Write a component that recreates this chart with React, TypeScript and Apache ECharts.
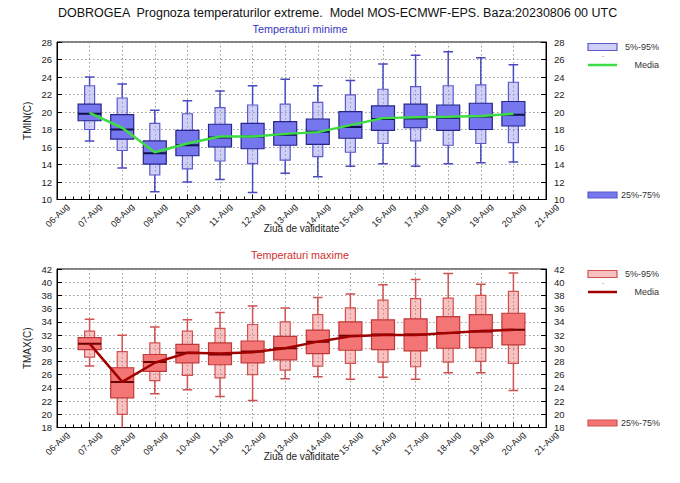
import React, { useEffect, useRef } from "react";
import * as echarts from "echarts";

const days = ["06-Aug","07-Aug","08-Aug","09-Aug","10-Aug","11-Aug","12-Aug","13-Aug","14-Aug","15-Aug","16-Aug","17-Aug","18-Aug","19-Aug","20-Aug","21-Aug"];
const boxDays = [1,2,3,4,5,6,7,8,9,10,11,12,13,14];

// TMIN
const tminMax = [24.0,23.2,20.2,21.3,22.4,23.0,23.75,23.0,23.6,25.5,26.5,26.9,26.2,25.4];
const tminP95 = [23.0,21.6,18.7,19.8,20.5,20.8,20.9,21.1,21.95,22.6,22.9,23.0,23.1,23.4];
const tminP75 = [20.9,19.7,16.7,17.9,18.6,18.7,18.9,19.2,20.05,20.7,20.9,20.8,21.0,21.2];
const tminMed = [19.8,18.0,15.3,16.2,17.1,17.2,17.4,17.75,18.3,19.2,19.25,19.35,19.5,19.7];
const tminP25 = [19.0,16.9,14.05,15.0,16.0,15.8,16.2,16.3,17.0,17.9,18.2,17.9,18.0,18.4];
const tminP5 = [18.0,15.6,12.8,13.5,14.4,14.1,14.5,14.9,15.4,16.4,16.7,16.2,16.4,16.5];
const tminMin = [16.7,13.6,10.9,12.0,12.3,10.8,13.0,12.6,13.8,14.1,13.8,14.1,14.2,14.3];
const tminMedia = [19.9,18.2,15.4,16.4,17.2,17.2,17.5,17.7,18.5,19.3,19.4,19.45,19.55,19.8];

// TMAX
const tmaxMax = [34.4,31.95,33.2,34.3,35.4,36.4,36.1,37.7,38.2,39.6,40.4,41.3,39.7,41.4];
const tmaxP95 = [32.6,29.5,30.8,32.6,33.0,33.6,34.0,35.1,36.1,37.3,37.5,37.6,38.0,38.6];
const tmaxP75 = [31.6,27.05,29.05,30.6,30.8,31.1,31.8,32.75,34.0,34.3,34.45,34.8,35.1,35.3];
const tmaxMed = [30.7,24.9,27.9,29.3,29.05,29.5,30.0,31.0,31.9,32.1,32.1,32.3,32.55,32.8];
const tmaxP25 = [29.8,22.5,26.5,27.8,27.5,27.8,28.25,29.2,29.7,29.8,29.6,30.0,30.1,30.5];
const tmaxP5 = [28.65,20.0,25.1,25.9,25.5,26.0,26.7,27.3,27.7,27.9,27.2,27.9,28.0,27.7];
const tmaxMin = [27.3,17.6,23.1,23.7,22.7,22.1,25.4,25.7,25.3,25.6,25.3,26.3,26.3,23.6];
const tmaxMedia = [30.7,24.9,27.8,29.3,29.2,29.4,30.0,31.0,31.8,32.0,32.0,32.3,32.6,32.8];

const yTicksMin = { min: 10, max: 28, interval: 2 };
const yTicksMax = { min: 18, max: 42, interval: 2 };

const FONT = '"Liberation Sans", Arial, Helvetica, sans-serif';

const blue = {
  lightFill: "rgba(140,140,238,0.42)",
  lightStroke: "#5a5acc",
  darkFill: "#7676ee",
  darkStroke: "#25258a",
  median: "#10104a",
  whisker: "#4a4ac0",
  media: "#3ddc45",
};
const red = {
  lightFill: "rgba(240,110,110,0.42)",
  lightStroke: "#d25050",
  darkFill: "#f47575",
  darkStroke: "#c03838",
  median: "#6a0000",
  whisker: "#d05252",
  media: "#a00000",
};

function buildRows(mn, p5, p25, md, p75, p95, mx) {
  return boxDays.map((d, i) => [d, mn[i], p5[i], p25[i], md[i], p75[i], p95[i], mx[i]]);
}

function makeRender(c) {
  return (params, api) => {
    const x = api.value(0);
    const v = [1, 2, 3, 4, 5, 6, 7].map((k) => api.value(k));
    const [wmin, p5, p25, md, p75, p95, wmax] = v;
    const px = api.coord([x, md])[0];
    const y = (val) => api.coord([x, val])[1];
    const ow = 5, iw = 11.5, cw = 4.8;
    const ls = (x1, y1, x2, y2, col, w) => ({
      type: "line",
      shape: { x1, y1, x2, y2 },
      style: { stroke: col, lineWidth: w },
    });
    return {
      type: "group",
      children: [
        ls(px, y(wmax), px, y(p95), c.whisker, 1.5),
        ls(px - cw, y(wmax), px + cw, y(wmax), c.whisker, 1.5),
        ls(px, y(p5), px, y(wmin), c.whisker, 1.5),
        ls(px - cw, y(wmin), px + cw, y(wmin), c.whisker, 1.5),
        {
          type: "rect",
          shape: { x: px - ow, y: y(p95), width: ow * 2, height: y(p5) - y(p95) },
          style: { fill: c.lightFill, stroke: c.lightStroke, lineWidth: 1.2 },
        },
        {
          type: "rect",
          shape: { x: px - iw, y: y(p75), width: iw * 2, height: y(p25) - y(p75) },
          style: { fill: c.darkFill, stroke: c.darkStroke, lineWidth: 1.2 },
        },
        ls(px - iw, y(md), px + iw, y(md), c.median, 2),
      ],
    };
  };
}

function xAxisFor(gridIndex) {
  return {
    type: "value",
    gridIndex,
    min: 0,
    max: 15,
    interval: 1,
    axisLine: { show: true, onZero: false, lineStyle: { color: "#000", width: 1 } },
    axisTick: { show: true, inside: true, length: 5, lineStyle: { color: "#000" } },
    minorTick: { show: true, splitNumber: 4, length: 3, lineStyle: { color: "#000" } },
    splitLine: { show: true, lineStyle: { color: "#999", type: [1.5, 2.5], width: 1 } },
    axisLabel: {
      rotate: 45,
      margin: 2,
      color: "#222",
      fontSize: 9,
      fontFamily: FONT,
      formatter: (val) => "{a|" + days[Math.round(val)] + "}",
      rich: { a: { fontSize: 9, fontFamily: FONT, color: "#222", padding: [20, -5, 0, 0] } },
    },
    name: "Ziua de validitate",
    nameLocation: "middle",
    nameGap: 24,
    nameMoveOverlap: false,
    nameTextStyle: { fontSize: 10, color: "#222", fontFamily: FONT },
  };
}

function yAxesFor(gridIndex, t, name) {
  const common = {
    type: "value",
    gridIndex,
    min: t.min,
    max: t.max,
    interval: t.interval,
    axisLine: { show: true, lineStyle: { color: "#000", width: 1 } },
    axisTick: { show: true, inside: true, length: 5, lineStyle: { color: "#000" } },
    axisLabel: { color: "#222", fontSize: 9.5, fontFamily: FONT, margin: 5 },
  };
  return [
    {
      ...common,
      position: "left",
      splitLine: { show: true, lineStyle: { color: "#999", type: [1.5, 2.5], width: 1 } },
      name,
      nameLocation: "middle",
      nameGap: 25,
      nameRotate: 90,
      nameMoveOverlap: false,
      nameTextStyle: { fontSize: 10, color: "#222", fontFamily: FONT },
    },
    {
      ...common,
      position: "right",
      splitLine: { show: false },
      axisLabel: { ...common.axisLabel, margin: 8 },
    },
  ];
}

function legend(c, yLight, yMedia, yDark) {
  const txt = (x, y, text, align) => ({
    type: "text",
    x,
    y,
    style: { text, fill: "#333", font: "9px " + FONT, align, verticalAlign: "middle" },
  });
  return [
    { type: "rect", shape: { x: 588, y: yLight - 3.5, width: 29, height: 7 }, style: { fill: c.lightFill, stroke: c.lightStroke, lineWidth: 1.2 } },
    txt(625, yLight, "5%-95%", "left"),
    { type: "rect", shape: { x: 602.5, y: (yLight + yMedia) / 2, width: 1, height: 1 }, style: { fill: "#888" } },
    { type: "line", shape: { x1: 588, y1: yMedia, x2: 617, y2: yMedia }, style: { stroke: c.media, lineWidth: 2.5 } },
    txt(659, yMedia, "Media", "right"),
    { type: "rect", shape: { x: 588, y: yDark - 3, width: 29, height: 6 }, style: { fill: c.darkFill, stroke: c.lightStroke, lineWidth: 1.2 } },
    txt(621, yDark, "25%-75%", "left"),
  ];
}

export default function App() {
  const ref = useRef(null);
  useEffect(() => {
    const chart = echarts.init(ref.current, null, { renderer: "svg" });
    const option = {
      animation: false,
      backgroundColor: "#fff",
      grid: [
        { left: 57, top: 42, width: 489, height: 157.5, show: true, borderColor: "#000", borderWidth: 1, backgroundColor: "transparent" },
        { left: 57, top: 269, width: 489, height: 158.5, show: true, borderColor: "#000", borderWidth: 1, backgroundColor: "transparent" },
      ],
      xAxis: [xAxisFor(0), xAxisFor(1)],
      yAxis: [...yAxesFor(0, yTicksMin, "TMIN(C)"), ...yAxesFor(1, yTicksMax, "TMAX(C)")],
      series: [
        {
          type: "custom",
          xAxisIndex: 0,
          yAxisIndex: 0,
          clip: true,
          encode: { x: 0, y: [1, 2, 3, 4, 5, 6, 7] },
          data: buildRows(tminMin, tminP5, tminP25, tminMed, tminP75, tminP95, tminMax),
          renderItem: makeRender(blue),
          z: 2,
        },
        {
          type: "line",
          xAxisIndex: 0,
          yAxisIndex: 0,
          data: boxDays.map((d, i) => [d, tminMedia[i]]),
          symbol: "none",
          lineStyle: { color: blue.media, width: 2.5 },
          z: 4,
        },
        {
          type: "custom",
          xAxisIndex: 1,
          yAxisIndex: 2,
          clip: true,
          encode: { x: 0, y: [1, 2, 3, 4, 5, 6, 7] },
          data: buildRows(tmaxMin, tmaxP5, tmaxP25, tmaxMed, tmaxP75, tmaxP95, tmaxMax),
          renderItem: makeRender(red),
          z: 2,
        },
        {
          type: "line",
          xAxisIndex: 1,
          yAxisIndex: 2,
          data: boxDays.map((d, i) => [d, tmaxMedia[i]]),
          symbol: "none",
          lineStyle: { color: red.media, width: 2.5 },
          z: 4,
        },
      ],
      graphic: [
        {
          type: "text",
          x: 58,
          y: 13,
          style: {
            text: "DOBROGEA  Prognoza temperaturilor extreme.  Model MOS-ECMWF-EPS. Baza:20230806 00 UTC",
            fill: "#111",
            font: "12.5px " + FONT,
            align: "left",
            verticalAlign: "middle",
          },
        },
        {
          type: "text",
          x: 300,
          y: 29,
          style: { text: "Temperaturi minime", fill: "#3636c0", font: "10.8px " + FONT, align: "center", verticalAlign: "middle" },
        },
        {
          type: "text",
          x: 300,
          y: 255,
          style: { text: "Temperaturi maxime", fill: "#d03030", font: "10.8px " + FONT, align: "center", verticalAlign: "middle" },
        },
        ...legend(blue, 47, 65, 195),
        ...legend(red, 274, 292, 423),
      ],
    };
    chart.setOption(option);
    return () => chart.dispose();
  }, []);
  return (
    <div
      ref={ref}
      style={{ position: "absolute", left: 0, top: 0, width: 680, height: 483, background: "#fff" }}
    />
  );
}
